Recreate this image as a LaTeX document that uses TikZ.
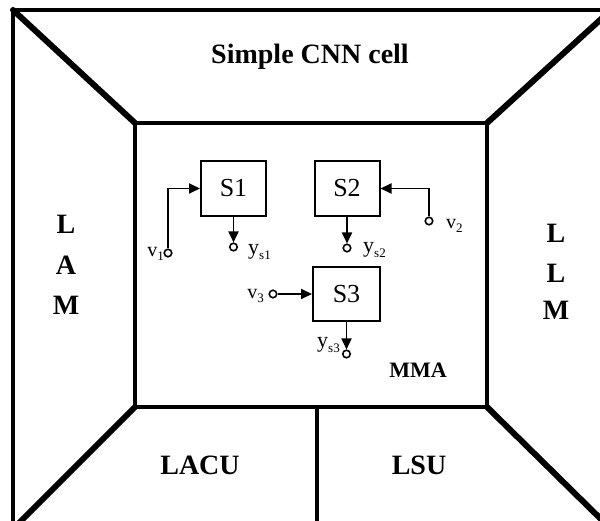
\documentclass[tikz,border=0pt]{standalone}
\usepackage{fontspec}
\setmainfont{Liberation Serif}
\usetikzlibrary{arrows.meta}
\newcommand\subt[1]{\raisebox{-0.4ex}{\fontsize{13}{13}\selectfont #1}}
\begin{document}
\begin{tikzpicture}[x=1pt,y=-1pt,
  frame/.style={line width=4pt},
  diag/.style={line width=6pt},
  sbox/.style={draw,line width=2pt,minimum width=65pt,minimum height=55pt,inner sep=0pt,font=\fontsize{26}{26}\selectfont},
  term/.style={circle,draw,line width=1.6pt,fill=white,minimum size=7.5pt,inner sep=0pt},
  arr/.style={line width=1.8pt,-{Triangle[length=11pt,width=10pt]}},
  big/.style={font=\fontsize{28}{28}\selectfont\bfseries,inner sep=0pt},
  vlbl/.style={font=\fontsize{20}{20}\selectfont,inner sep=0pt},
  ylbl/.style={font=\fontsize{22}{22}\selectfont,inner sep=0pt},
]
\useasboundingbox (0,0) rectangle (600,521);
\clip (0,0) rectangle (600,521);
\fill[white] (0,0) rectangle (600,521);
% frame and panels
\coordinate (otl) at (13,10);
\coordinate (otr) at (611,10);
\coordinate (obl) at (13,529);
\coordinate (obr) at (611,529);
\coordinate (itl) at (135,123);
\coordinate (itr) at (487,123);
\coordinate (ibl) at (135,407);
\coordinate (ibr) at (487,407);
\coordinate (dtop) at (317,407);
\coordinate (dbot) at (317,529);
\draw[frame] (otl) rectangle (obr);
\draw[frame] (itl) rectangle (ibr);
\draw[frame] (dtop) -- (dbot);
\draw[diag,line cap=round] (otl) -- (itl);
\draw[diag,line cap=round] (otr) -- (itr);
\draw[diag,line cap=round] (obl) -- (ibl);
\draw[diag,line cap=round] (obr) -- (ibr);
% panel labels
\node[big] (title) at (310,57) {Simple CNN cell};
\node[big] (lacu) at (200,465) {LACU};
\node[big] (lsu) at (419,465) {LSU};
\node[big] (lam1) at (66,224) {L};
\node[big] (lam2) at (66,265) {A};
\node[big] (lam3) at (66,305) {M};
\node[big] (llm1) at (556,233) {L};
\node[big] (llm2) at (556,273) {L};
\node[big] (llm3) at (556,310) {M};
\node[font=\fontsize{22}{22}\selectfont\bfseries,inner sep=0pt] (mma) at (418,370) {MMA};
% blocks
\node[sbox] (s1) at (233.5,188.5) {S1};
\node[sbox] (s2) at (347,188.5) {S2};
\node[sbox,minimum width=67pt,minimum height=54pt] (s3) at (346.5,294) {S3};
% terminals
\node[term] (v1) at (168,253) {};
\node[term] (ys1) at (233.5,247) {};
\node[term] (v2) at (429,221) {};
\node[term] (ys2) at (347,248) {};
\node[term] (v3) at (273,294) {};
\node[term] (ys3) at (346.5,354) {};
% connectors
\draw[arr] (v1) |- (s1.west);
\draw[arr] (v2) |- (s2.east);
\draw[arr] (v3) -- (s3.west);
\draw[arr] (s1.south) -- (ys1);
\draw[arr] (s2.south) -- (ys2);
\draw[arr] (s3.south) -- (ys3);
% terminal labels
\node[vlbl,anchor=base east] (lv1) at (164,257) {v\subt{1}};
\node[ylbl,anchor=base west] (lys1) at (248,255) {y\subt{s1}};
\node[ylbl,anchor=base west] (lys2) at (363,253) {y\subt{s2}};
\node[vlbl,anchor=base west] (lv2) at (446,229) {v\subt{2}};
\node[vlbl,anchor=base east] (lv3) at (264,299) {v\subt{3}};
\node[ylbl,anchor=base east] (lys3) at (340,348) {y\subt{s3}};
\end{tikzpicture}
\end{document}
